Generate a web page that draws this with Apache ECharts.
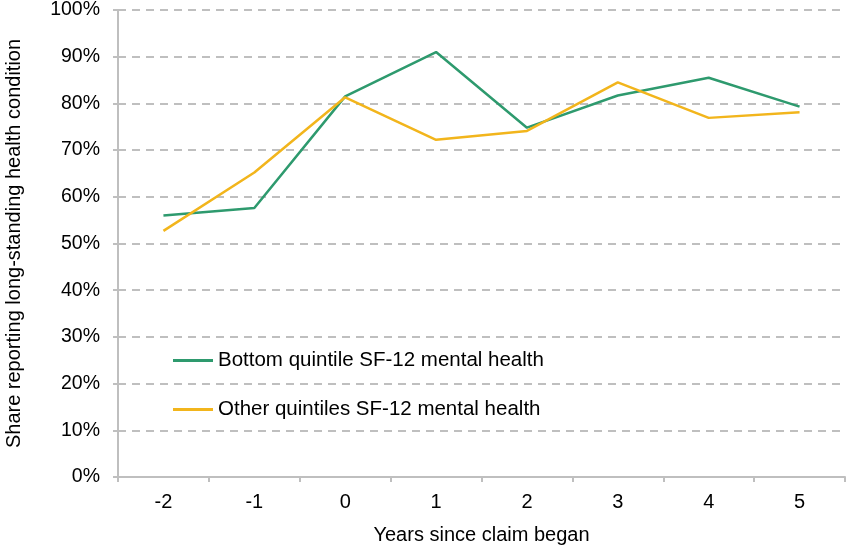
<!DOCTYPE html>
<html>
<head>
<meta charset="utf-8">
<script src="https://cdn.jsdelivr.net/npm/echarts@6/dist/echarts.min.js"></script>
<style>
  html, body { margin: 0; padding: 0; background: #fff; }
  #chart { width: 848px; height: 547px; }
</style>
</head>
<body>
<div id="chart"></div>
<script>
// years relative to claim start
const years = ['-2', '-1', '0', '1', '2', '3', '4', '5']
// share (%) reporting long-standing health condition
const bottomQuintile = [56.0, 57.6, 81.5, 91.0, 74.8, 81.7, 85.5, 79.3]
const otherQuintiles = [52.7, 65.2, 81.3, 72.2, 74.1, 84.5, 76.9, 78.1]

const fontFamily = 'Liberation Sans, Arial, sans-serif'
const axisGrey = '#BFBFBF'

const chart = echarts.init(document.getElementById('chart'))

chart.setOption({
  animation: false,
  textStyle: { fontFamily: fontFamily, color: '#000' },
  grid: { left: 118, right: 3, top: 10, bottom: 70, outerBoundsMode: 'none' },
  legend: {
    orient: 'vertical',
    left: 173,
    top: 350,
    padding: 0,
    itemWidth: 40,
    itemHeight: 3,
    itemGap: 28,
    icon: 'rect',
    selectedMode: false,
    textStyle: { fontSize: 20.5, color: '#000', fontFamily: fontFamily },
    data: ['Bottom quintile SF-12 mental health', 'Other quintiles SF-12 mental health']
  },
  xAxis: {
    type: 'category',
    data: years,
    boundaryGap: true,
    name: 'Years since claim began',
    nameLocation: 'middle',
    nameGap: 48,
    nameTextStyle: { fontSize: 20, color: '#000' },
    axisLine: { lineStyle: { color: axisGrey, width: 2 } },
    axisTick: { show: true, length: 5, lineStyle: { color: axisGrey, width: 2 } },
    axisLabel: { fontSize: 20, color: '#000', margin: 15 },
    splitLine: { show: false }
  },
  yAxis: {
    type: 'value',
    min: 0,
    max: 100,
    interval: 10,
    name: 'Share reporting long-standing health condition',
    nameLocation: 'middle',
    nameGap: 94,
    nameTextStyle: { fontSize: 20, color: '#000' },
    axisLine: { show: true, lineStyle: { color: axisGrey, width: 2 } },
    axisTick: { show: true, length: 5, lineStyle: { color: axisGrey, width: 2 } },
    axisLabel: { fontSize: 19.5, color: '#000', margin: 18, formatter: '{value}%' },
    splitLine: { show: true, lineStyle: { color: axisGrey, width: 2, type: [8, 6] } }
  },
  series: [
    {
      name: 'Bottom quintile SF-12 mental health',
      type: 'line',
      data: bottomQuintile,
      symbol: 'none',
      color: '#2E9A6E',
      lineStyle: { width: 2.5, color: '#2E9A6E' }
    },
    {
      name: 'Other quintiles SF-12 mental health',
      type: 'line',
      data: otherQuintiles,
      symbol: 'none',
      color: '#F2B51C',
      lineStyle: { width: 2.5, color: '#F2B51C' }
    }
  ]
})
</script>
</body>
</html>
